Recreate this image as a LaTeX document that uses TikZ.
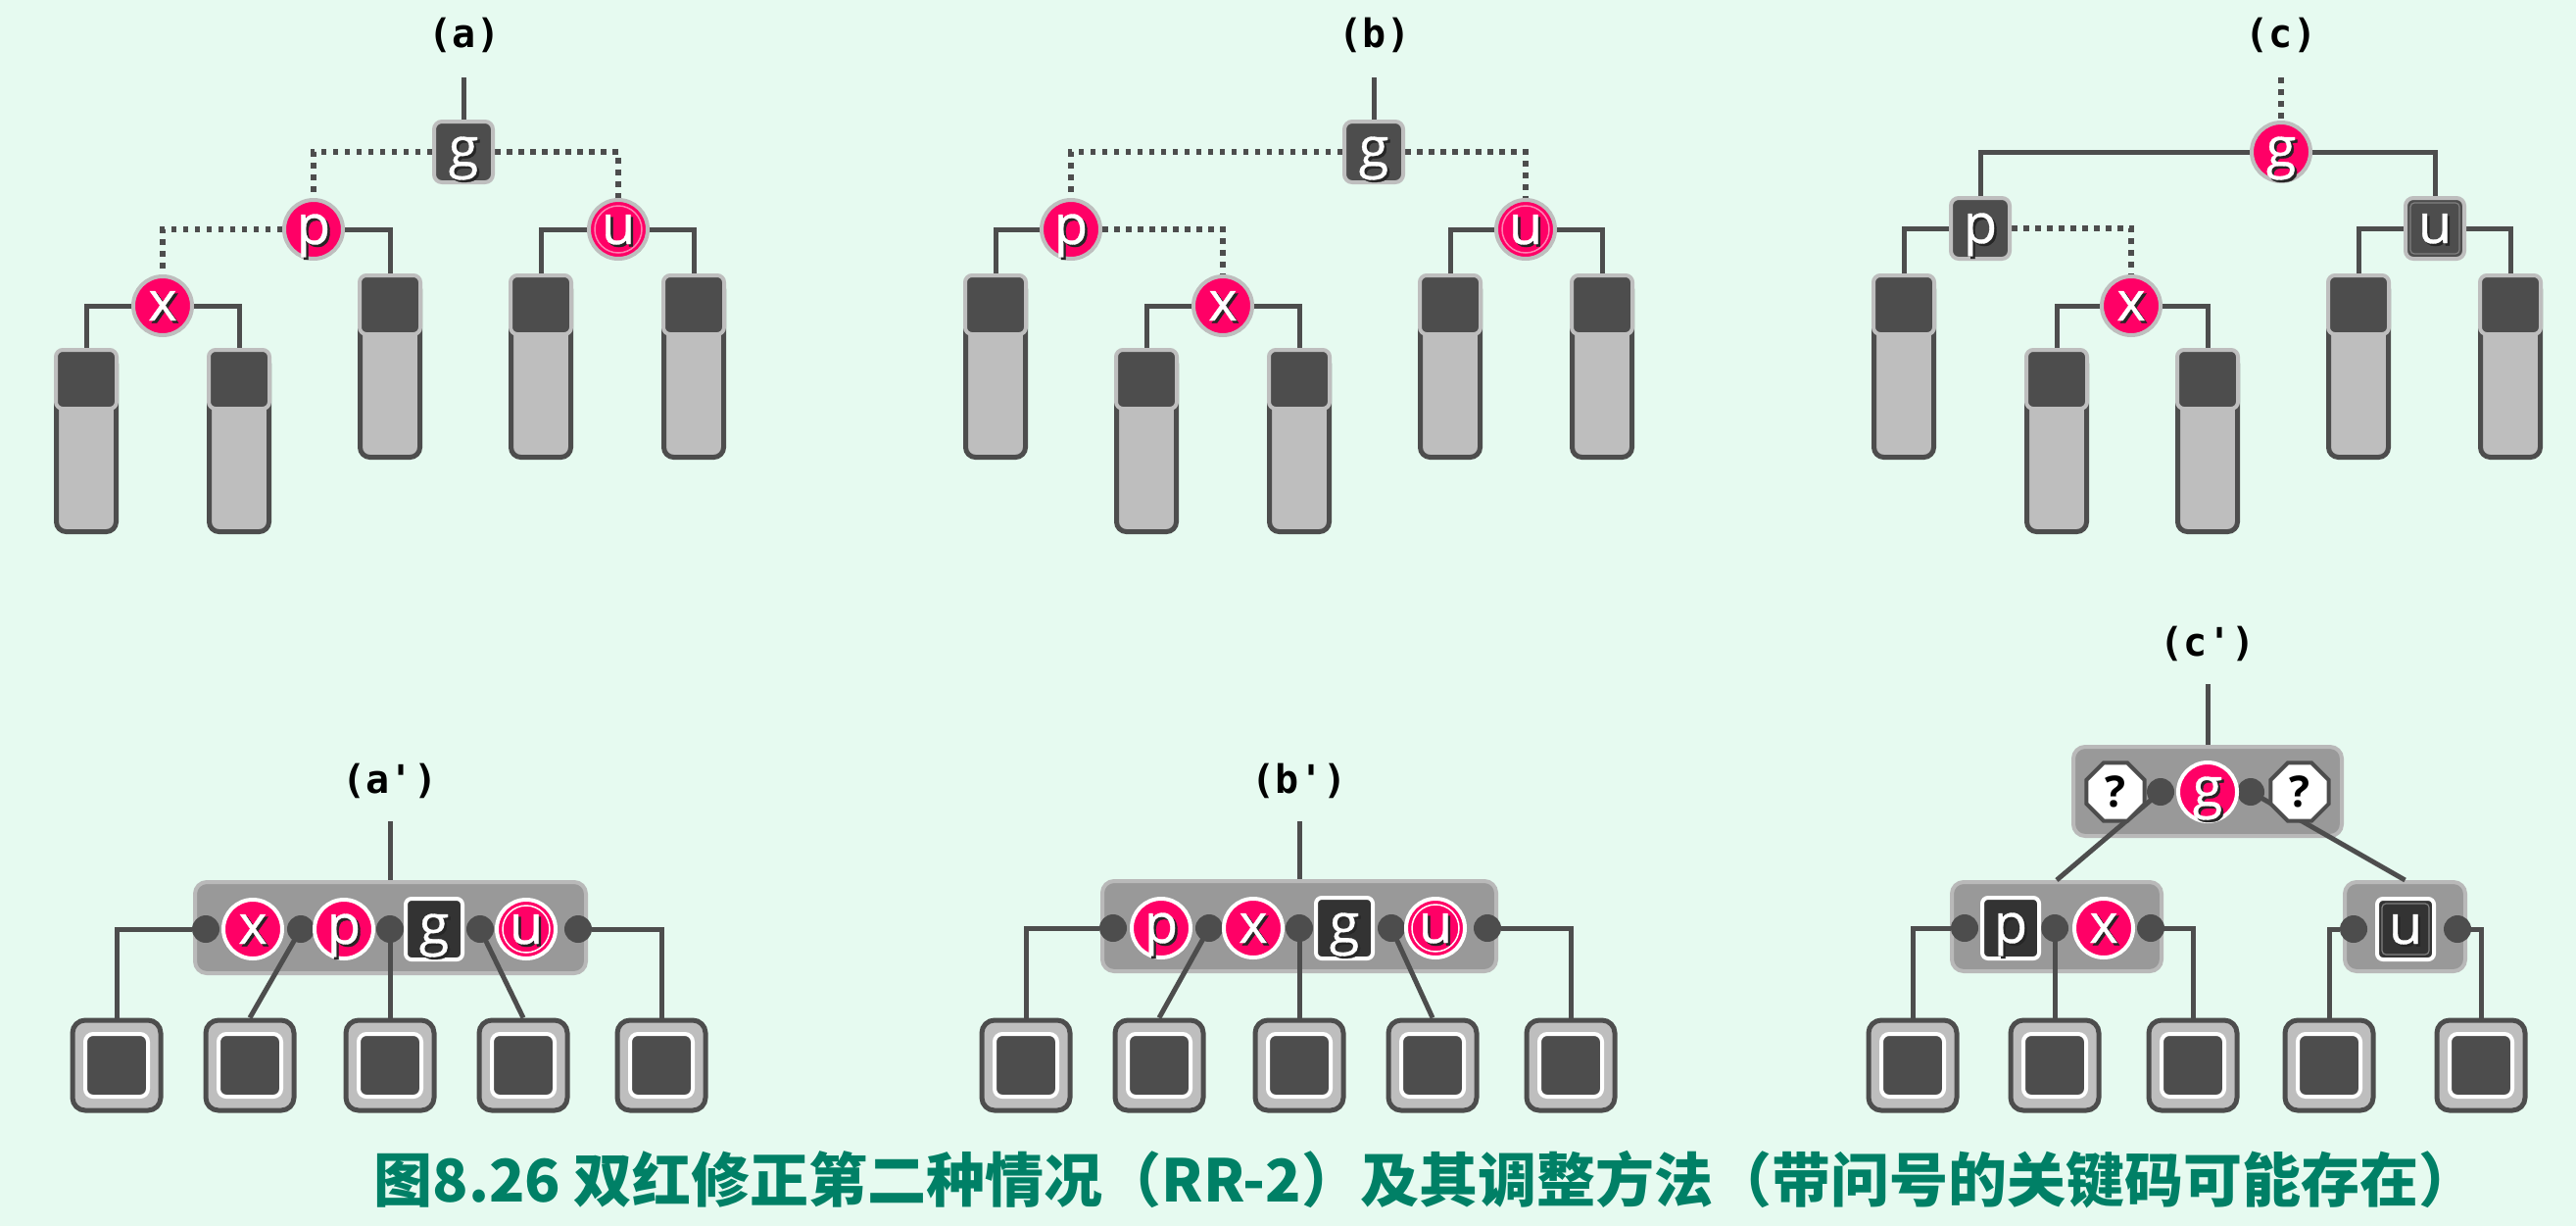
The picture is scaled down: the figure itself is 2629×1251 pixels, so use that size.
\documentclass[tikz,border=0pt]{standalone}
\usepackage{fontspec}
\defaultfontfeatures{}
\newfontfamily\keyfont{Open Sans}[FakeBold=0.6]
\newfontfamily\qfont{Open Sans}
\newfontfamily\labfont{DejaVu Sans Mono}
\newfontfamily\cjkfont{Noto Sans CJK SC}
\usetikzlibrary{shapes.geometric,calc}
\definecolor{bgc}{RGB}{230,250,240}
\definecolor{dkg}{RGB}{77,77,77}
\definecolor{lgr}{RGB}{190,190,190}
\definecolor{pnk}{RGB}{255,0,102}
\definecolor{grpc}{RGB}{153,153,153}
\definecolor{grpb}{RGB}{185,185,185}
\definecolor{blk}{RGB}{51,51,51}
\definecolor{capc}{RGB}{0,128,102}
\pgfdeclarelayer{back}
\pgfdeclarelayer{grplayer}
\pgfdeclarelayer{edgelayer}
\pgfsetlayers{back,grplayer,edgelayer,main}
\newcommand\shtxt[1]{\rlap{\kern2.5pt\raisebox{-2.5pt}{\color{black!85}#1}}\color{white}#1}
\newcommand\tallbar[3]{%
  \draw[barbody] ({#2-30.5},{#3+6}) rectangle ({#2+30.5},{#3+187.5});
  \node[bartop] (#1) at (#2,{#3+32}) {};
}
\newcommand\leafbox[3]{%
  \node[leafout] (#1) at (#2,#3) {};
  \node[leafin] (#1-in) at (#2,#3) {};
}
\tikzset{
 lnk/.style={draw=dkg, line width=5pt},
 dotlnk/.style={draw=dkg, line width=5.5pt, dash pattern=on 5.5pt off 6.5pt},
 keytxt/.style={font=\keyfont\fontsize{56}{56}\selectfont, text=white, text height=30pt, text depth=0pt, inner sep=0pt},
 rnode/.style={keytxt, circle, fill=pnk, draw=lgr, line width=4pt, minimum size=60pt},
 rnodeD/.style={rnode, path picture={\draw[white!50!pnk, line width=1.5pt] (path picture bounding box.center) circle (24pt);}},
 bnode/.style={keytxt, rectangle, rounded corners=8pt, fill=dkg, draw=lgr, line width=4pt, minimum width=60pt, minimum height=62pt},
 bnodeD/.style={bnode, path picture={\draw[gray, line width=1.2pt, rounded corners=4pt] ([shift={(5pt,5pt)}]path picture bounding box.south west) rectangle ([shift={(-5pt,-5pt)}]path picture bounding box.north east);}},
 grk/.style={keytxt, circle, fill=pnk, draw=white, line width=4pt, minimum size=60pt},
 grkD/.style={grk, path picture={\draw[white, line width=1.5pt] (path picture bounding box.center) circle (24pt);}},
 gbk/.style={keytxt, rectangle, rounded corners=6pt, fill=blk, draw=white, line width=4pt, minimum width=58pt, minimum height=62pt},
 gbkD/.style={gbk, path picture={\draw[gray, line width=1.2pt, rounded corners=4pt] ([shift={(5pt,5pt)}]path picture bounding box.south west) rectangle ([shift={(-5pt,-5pt)}]path picture bounding box.north east);}},
 qk/.style={regular polygon, regular polygon sides=8, fill=white, draw=dkg, line width=4pt, minimum size=64pt, inner sep=0pt, text=black, font=\qfont\bfseries\fontsize{44}{44}\selectfont},
 kdot/.style={circle, fill=dkg, minimum size=28pt, inner sep=0pt},
 grpbox/.style={rectangle, rounded corners=12pt, fill=grpc, draw=grpb, line width=4pt, inner sep=0pt},
 bartop/.style={rectangle, rounded corners=7pt, fill=dkg, draw=lgr, line width=4pt, minimum width=62pt, minimum height=60pt, inner sep=0pt},
 barbody/.style={draw=dkg, fill=lgr, line width=5pt, rounded corners=10pt},
 leafout/.style={rectangle, rounded corners=13pt, fill=lgr, draw=dkg, line width=5pt, minimum width=90pt, minimum height=92pt, inner sep=0pt},
 leafin/.style={rectangle, rounded corners=8pt, fill=dkg, draw=white, line width=4pt, minimum width=64pt, minimum height=64pt, inner sep=0pt},
 lab/.style={font=\labfont\bfseries\fontsize{40}{40}\selectfont, inner sep=0pt},
}
\begin{document}
\begin{tikzpicture}[x=1pt,y=-1pt]
\useasboundingbox (0,0) rectangle (2629,1251);
\begin{pgfonlayer}{back}
\fill[bgc] (0,0) rectangle (2629,1251);
\end{pgfonlayer}

% ================= (a)
\node[lab] (la) at (474,36) {(a)};
\coordinate (ta) at (473,79);
\node[bnode] (ag) at (473,155) {\shtxt{g}};
\node[rnode] (ap) at (320,234) {\shtxt{p}};
\node[rnodeD] (au) at (631,234) {\shtxt{u}};
\node[rnode] (ax) at (166,312) {\shtxt{x}};
\tallbar{ab1}{88}{355}
\tallbar{ab2}{244}{355}
\tallbar{ab3}{398}{279}
\tallbar{ab4}{552}{279}
\tallbar{ab5}{708}{279}
\begin{pgfonlayer}{edgelayer}
\draw[lnk] (ta) -- (ag);
\draw[dotlnk] (ag) -| (ap);
\draw[dotlnk] (ag) -| (au);
\draw[dotlnk] (ap) -| (ax);
\draw[lnk] (ap) -| (ab3);
\draw[lnk] (ax) -| (ab1);
\draw[lnk] (ax) -| (ab2);
\draw[lnk] (au) -| (ab4);
\draw[lnk] (au) -| (ab5);
\end{pgfonlayer}

% ================= (b)
\node[lab] (lb) at (1403,36) {(b)};
\coordinate (tb) at (1402,79);
\node[bnode] (bg) at (1402,155) {\shtxt{g}};
\node[rnode] (bp) at (1093,234) {\shtxt{p}};
\node[rnodeD] (bu) at (1557,234) {\shtxt{u}};
\node[rnode] (bx) at (1248,312) {\shtxt{x}};
\tallbar{bb1}{1016}{279}
\tallbar{bb2}{1170}{355}
\tallbar{bb3}{1326}{355}
\tallbar{bb4}{1480}{279}
\tallbar{bb5}{1635}{279}
\begin{pgfonlayer}{edgelayer}
\draw[lnk] (tb) -- (bg);
\draw[dotlnk] (bg) -| (bp);
\draw[dotlnk] (bg) -| (bu);
\draw[dotlnk] (bp) -| (bx);
\draw[lnk] (bp) -| (bb1);
\draw[lnk] (bx) -| (bb2);
\draw[lnk] (bx) -| (bb3);
\draw[lnk] (bu) -| (bb4);
\draw[lnk] (bu) -| (bb5);
\end{pgfonlayer}

% ================= (c)
\node[lab] (lc) at (2328,36) {(c)};
\coordinate (tc) at (2328,79);
\node[rnode] (cg) at (2328,155) {\shtxt{g}};
\node[bnode] (cp) at (2021,233) {\shtxt{p}};
\node[bnodeD] (cu) at (2485,233) {\shtxt{u}};
\node[rnode] (cx) at (2175,312) {\shtxt{x}};
\tallbar{cb1}{1943}{279}
\tallbar{cb2}{2099}{355}
\tallbar{cb3}{2253}{355}
\tallbar{cb4}{2407}{279}
\tallbar{cb5}{2562}{279}
\begin{pgfonlayer}{edgelayer}
\draw[dotlnk] (tc) -- (cg);
\draw[lnk] (cg) -| (cp);
\draw[lnk] (cg) -| (cu);
\draw[dotlnk] (cp) -| (cx);
\draw[lnk] (cp) -| (cb1);
\draw[lnk] (cx) -| (cb2);
\draw[lnk] (cx) -| (cb3);
\draw[lnk] (cu) -| (cb4);
\draw[lnk] (cu) -| (cb5);
\end{pgfonlayer}

% ================= (a')
\node[lab] (lap) at (398,797) {(a')};
\coordinate (tap) at (398.5,838);
\begin{pgfonlayer}{grplayer}
\node[grpbox, minimum width=399pt, minimum height=93pt] (apg) at (398.5,946.5) {};
\end{pgfonlayer}
\node[kdot] (apd1) at (210,948) {};
\node[kdot] (apd2) at (307,948) {};
\node[kdot] (apd3) at (398,948) {};
\node[kdot] (apd4) at (490,948) {};
\node[kdot] (apd5) at (590,948) {};
\node[grk] (apx) at (258,948) {\shtxt{x}};
\node[grk] (app) at (351,948) {\shtxt{p}};
\node[gbk] (apgk) at (443,948) {\shtxt{g}};
\node[grkD] (apu) at (537,948) {\shtxt{u}};
\leafbox{apl1}{119}{1087}
\leafbox{apl2}{255}{1087}
\leafbox{apl3}{398}{1087}
\leafbox{apl4}{534}{1087}
\leafbox{apl5}{675}{1087}
\begin{pgfonlayer}{edgelayer}
\draw[lnk] (tap) -- (apg);
\draw[lnk] (apd1) -| (apl1);
\draw[lnk] (apd2.center) -- (apl2.north);
\draw[lnk] (apd3.center) -- (apl3.north);
\draw[lnk] (apd4.center) -- (apl4.north);
\draw[lnk] (apd5) -| (apl5);
\end{pgfonlayer}

% ================= (b')
\node[lab] (lbp) at (1326,797) {(b')};
\coordinate (tbp) at (1326,838);
\begin{pgfonlayer}{grplayer}
\node[grpbox, minimum width=402pt, minimum height=92pt] (bpg) at (1326,945) {};
\end{pgfonlayer}
\node[kdot] (bpd1) at (1136,947) {};
\node[kdot] (bpd2) at (1234,947) {};
\node[kdot] (bpd3) at (1326,947) {};
\node[kdot] (bpd4) at (1420,947) {};
\node[kdot] (bpd5) at (1518,947) {};
\node[grk] (bpp) at (1185,947) {\shtxt{p}};
\node[grk] (bpx) at (1279,947) {\shtxt{x}};
\node[gbk] (bpgk) at (1372,947) {\shtxt{g}};
\node[grkD] (bpu) at (1465,947) {\shtxt{u}};
\leafbox{bpl1}{1047}{1087}
\leafbox{bpl2}{1183}{1087}
\leafbox{bpl3}{1326}{1087}
\leafbox{bpl4}{1462}{1087}
\leafbox{bpl5}{1603}{1087}
\begin{pgfonlayer}{edgelayer}
\draw[lnk] (tbp) -- (bpg);
\draw[lnk] (bpd1) -| (bpl1);
\draw[lnk] (bpd2.center) -- (bpl2.north);
\draw[lnk] (bpd3.center) -- (bpl3.north);
\draw[lnk] (bpd4.center) -- (bpl4.north);
\draw[lnk] (bpd5) -| (bpl5);
\end{pgfonlayer}

% ================= (c')
\node[lab] (lcp) at (2253,657) {(c')};
\coordinate (tcp) at (2253,698);
\begin{pgfonlayer}{grplayer}
\node[grpbox, minimum width=274pt, minimum height=91pt] (cpt) at (2253,807.5) {};
\node[grpbox, minimum width=214pt, minimum height=91pt] (cpl) at (2099,945.5) {};
\node[grpbox, minimum width=123pt, minimum height=91pt] (cpr) at (2454.5,945.5) {};
\end{pgfonlayer}
\node[kdot] (cpd1) at (2205,808) {};
\node[kdot] (cpd2) at (2297,808) {};
\node[qk] (cpq1) at (2159,808) {?};
\node[grk] (cpg) at (2253,808) {\shtxt{g}};
\node[qk] (cpq2) at (2347,808) {?};
\node[kdot] (cpld1) at (2005,947) {};
\node[kdot] (cpld2) at (2097,947) {};
\node[kdot] (cpld3) at (2195,947) {};
\node[gbk] (cpp) at (2052,947) {\shtxt{p}};
\node[grk] (cpx) at (2147,947) {\shtxt{x}};
\node[kdot] (cprd1) at (2402,948) {};
\node[kdot] (cprd2) at (2508,948) {};
\node[gbkD] (cpu) at (2455,948) {\shtxt{u}};
\leafbox{cpl1}{1952}{1087}
\leafbox{cpl2}{2097}{1087}
\leafbox{cpl3}{2238}{1087}
\leafbox{cpl4}{2377}{1087}
\leafbox{cpl5}{2532}{1087}
\begin{pgfonlayer}{edgelayer}
\draw[lnk] (tcp) -- (cpt);
\draw[lnk] (cpd1.center) -- (cpl.north);
\draw[lnk] (cpd2.center) -- (cpr.north);
\draw[lnk] (cpld1) -| (cpl1);
\draw[lnk] (cpld2.center) -- (cpl2.north);
\draw[lnk] (cpld3) -| (cpl3);
\draw[lnk] (cprd1) -| (cpl4);
\draw[lnk] (cprd2) -| (cpl5);
\end{pgfonlayer}

% ================= caption
\node[inner sep=0pt, text=capc, font=\cjkfont\bfseries\fontsize{60}{60}\selectfont] (cap) at (1455,1204)
 {\resizebox{2147pt}{!}{图8.26 双红修正第二种情况（RR-2）及其调整方法（带问号的关键码可能存在）}};
\end{tikzpicture}
\end{document}
